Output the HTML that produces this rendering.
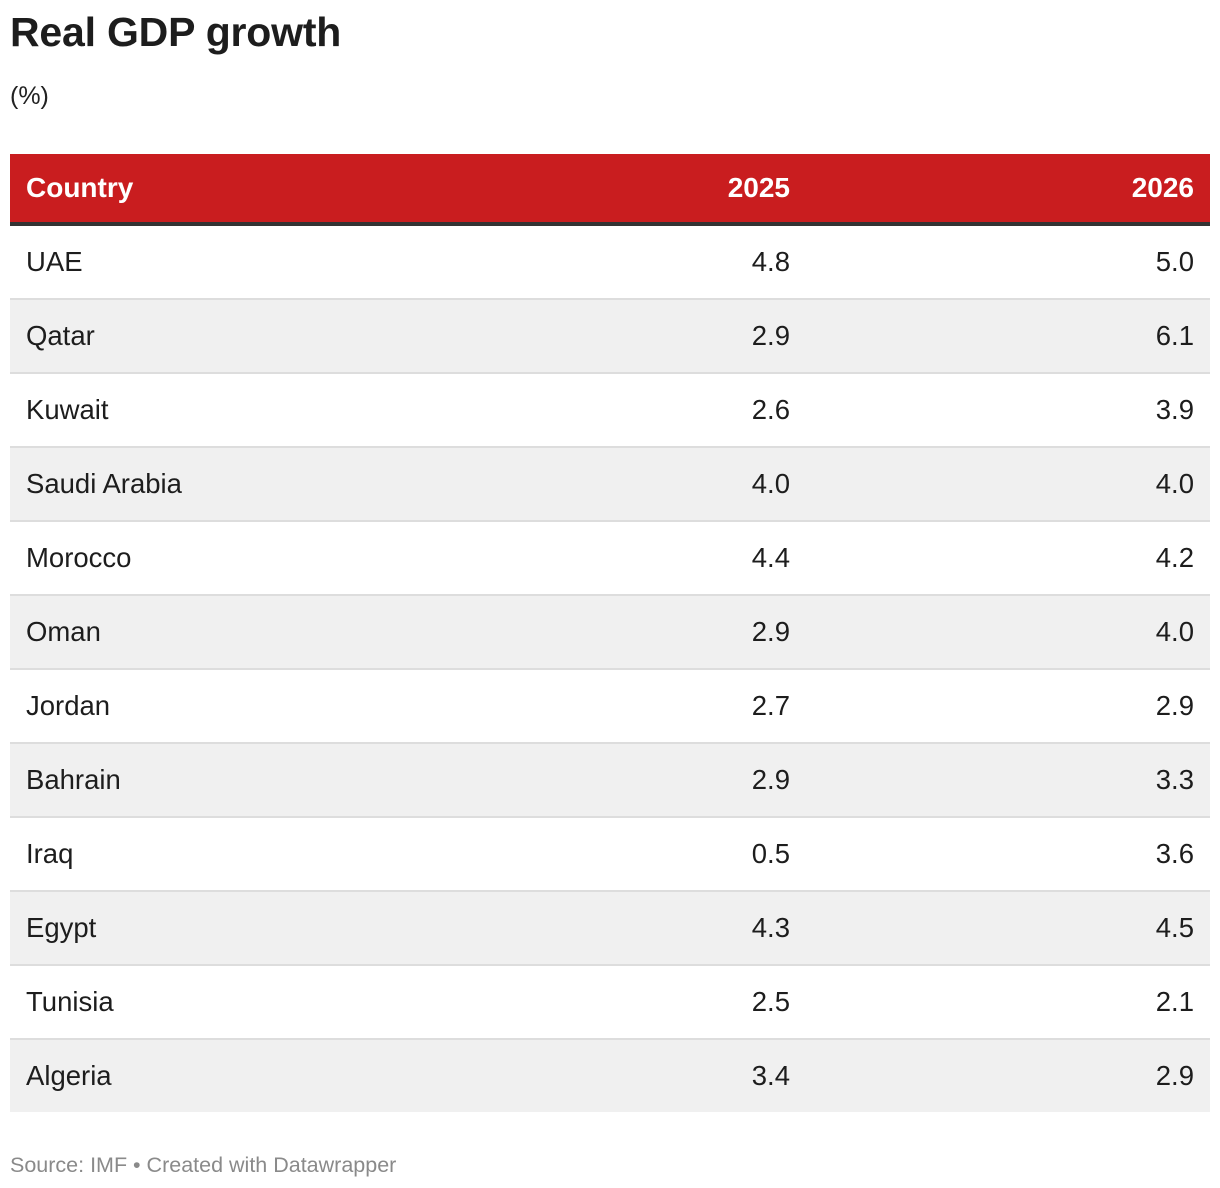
<!DOCTYPE html>
<html><head><meta charset="utf-8"><style>
body{margin:0;width:1220px;height:1188px;background:#fff;font-family:"Liberation Sans",Arial,sans-serif;color:#1d1d1d;position:relative;overflow:hidden}
h1{position:absolute;left:10px;top:9px;margin:0;font-size:41px;font-weight:bold;letter-spacing:-0.2px}
.sub{position:absolute;left:10px;top:82px;font-size:25px;color:#222}
table{position:absolute;left:10px;top:154px;width:1200px;border-collapse:collapse}
th{background:#c91d1f;color:#fff;font-size:28px;font-weight:bold;height:68px;padding:0 16px;border-bottom:4px solid #333}
td{font-size:27.5px;height:72px;padding:0 16px;border-bottom:2px solid #ddd}
tr:nth-child(even) td{background:#f0f0f0}
tr:last-child td{border-bottom:none}
.l{text-align:left}.r{text-align:right}
.src{position:absolute;left:10px;top:1153px;font-size:21.5px;color:#8a8a8a}
</style></head><body>
<h1>Real GDP growth</h1>
<div class="sub">(%)</div>
<table>
<thead><tr><th class="l">Country</th><th class="r" style="width:362px">2025</th><th class="r" style="width:372px">2026</th></tr></thead>
<tbody>
<tr><td>UAE</td><td class="r">4.8</td><td class="r">5.0</td></tr>
<tr><td>Qatar</td><td class="r">2.9</td><td class="r">6.1</td></tr>
<tr><td>Kuwait</td><td class="r">2.6</td><td class="r">3.9</td></tr>
<tr><td>Saudi Arabia</td><td class="r">4.0</td><td class="r">4.0</td></tr>
<tr><td>Morocco</td><td class="r">4.4</td><td class="r">4.2</td></tr>
<tr><td>Oman</td><td class="r">2.9</td><td class="r">4.0</td></tr>
<tr><td>Jordan</td><td class="r">2.7</td><td class="r">2.9</td></tr>
<tr><td>Bahrain</td><td class="r">2.9</td><td class="r">3.3</td></tr>
<tr><td>Iraq</td><td class="r">0.5</td><td class="r">3.6</td></tr>
<tr><td>Egypt</td><td class="r">4.3</td><td class="r">4.5</td></tr>
<tr><td>Tunisia</td><td class="r">2.5</td><td class="r">2.1</td></tr>
<tr><td>Algeria</td><td class="r">3.4</td><td class="r">2.9</td></tr>
</tbody></table>
<div class="src">Source: IMF • Created with Datawrapper</div>
</body></html>
